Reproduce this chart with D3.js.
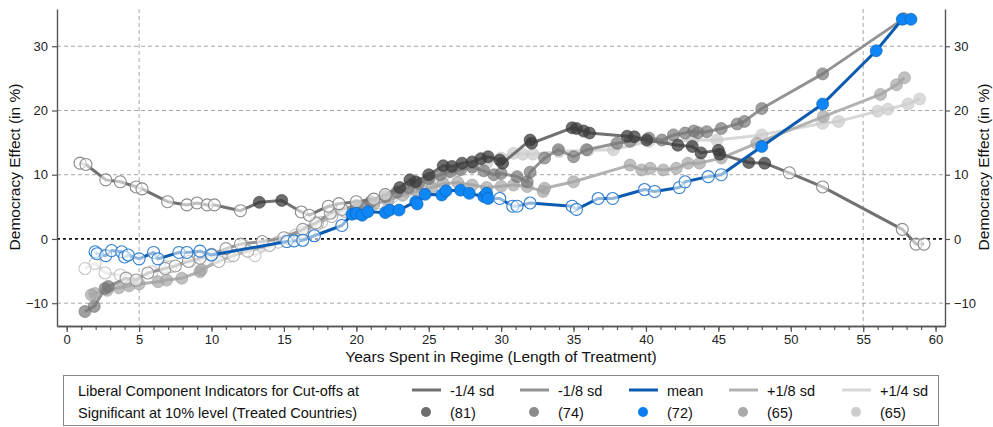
<!DOCTYPE html>
<html>
<head>
<meta charset="utf-8">
<script src="https://cdn.jsdelivr.net/npm/d3@7"></script>
<style>
  body { margin: 0; background: #fff; }
  svg { font-family: "Liberation Sans", Arial, Helvetica, sans-serif; }
</style>
</head>
<body>
<div id="plot"></div>
<script>
var width = 993;
var height = 427;

// [years in regime, effect in %, significant at 10% (1) or not (0)]
var minusQuarter = [
  [0.92,11.8,0],[1.33,11.6,0],[2.7,9.2,0],[3.7,8.9,0],[4.8,8.1,0],[5.2,7.8,0],[6.97,5.8,0],
  [8.3,5.3,0],[9.0,5.6,0],[9.7,5.3,0],[10.2,5.3,0],[12.0,4.4,0],[13.3,5.7,1],[14.85,6.0,1],
  [16.2,4.2,0],[16.75,3.7,0],[18.07,5.1,0],[18.8,5.5,0],[20.0,5.8,0],[21.2,6.2,0],[22.0,6.9,0],
  [23.0,8.0,1],[23.7,9.2,1],[24.1,8.9,1],[25.0,10.0,1],[26.0,11.4,1],[26.6,11.3,1],[27.3,11.8,1],
  [28.0,12.0,1],[28.6,12.5,1],[29.1,12.8,1],[29.9,12.3,1],[30.1,11.8,1],[32.0,15.4,1],[32.1,14.9,1],
  [34.9,17.3,1],[35.2,17.2,1],[35.7,16.8,1],[36.1,16.5,1],[38.7,16.0,1],[39.2,15.9,1],[40.05,15.4,1],
  [42.2,14.6,1],[43.2,14.4,1],[43.8,13.4,1],[45.0,13.8,1],[45.1,13.2,1],[47.1,11.9,1],[48.2,11.8,1],
  [49.9,10.3,0],[52.2,8.1,0],[57.7,1.5,0],[58.65,-0.8,0],[59.2,-0.8,0]
];
var minusEighth = [
  [1.26,-11.3,1],[1.9,-10.5,1],[2.65,-7.7,1],[2.87,-7.4,1],[4.1,-6.1,0],[4.8,-6.4,0],[5.6,-5.3,0],
  [6.8,-4.6,0],[7.5,-4.2,0],[8.4,-3.5,0],[9.2,-3.0,0],[10.0,-2.4,0],[11.0,-1.5,0],[12.0,-0.8,0],
  [13.5,-0.4,0],[15.0,0.2,0],[16.3,1.5,0],[17.2,2.5,0],[18.2,4.0,0],[19.0,4.6,0],[20.0,5.2,1],
  [21.0,5.8,1],[22.0,6.6,1],[22.8,7.3,1],[23.6,8.0,1],[24.3,8.6,1],[25.0,9.4,1],[25.8,10.0,1],
  [26.5,10.5,1],[27.2,10.8,1],[28.0,11.2,1],[28.8,10.6,1],[29.5,10.0,1],[30.0,10.2,1],[31.1,9.7,1],
  [31.8,8.9,1],[32.0,10.4,1],[33.0,12.6,1],[33.95,13.9,1],[35.0,12.8,1],[35.9,13.9,1],[38.0,14.9,1],
  [38.9,15.2,1],[40.2,15.7,1],[41.1,15.4,1],[41.9,16.2,1],[42.7,16.5,1],[43.3,16.8,1],[43.6,16.55,1],
  [44.2,16.7,1],[45.2,17.2,1],[46.3,17.9,1],[46.8,18.3,1],[48.0,20.3,1],[52.2,25.7,1],[57.8,34.3,1]
];
var meanSeries = [
  [1.96,-2.0,0],[2.1,-2.3,0],[2.7,-2.6,0],[3.1,-1.8,0],[3.8,-2.0,0],[4.0,-2.8,0],[4.25,-2.5,0],
  [5.0,-3.1,0],[6.0,-2.1,0],[6.3,-3.1,0],[7.75,-2.1,0],[8.3,-2.1,0],[9.2,-1.9,0],[10.0,-2.5,0],
  [15.2,-0.4,0],[15.7,-0.3,0],[16.3,-0.2,0],[17.1,0.5,0],[19.0,2.1,0],[19.7,3.85,1],[20.0,4.0,1],
  [20.4,3.7,1],[20.8,4.25,1],[22.0,4.1,1],[22.3,4.5,1],[22.95,4.5,1],[24.1,5.8,1],[24.2,5.45,1],
  [24.75,6.95,1],[25.9,6.85,1],[26.2,7.5,1],[27.2,7.6,1],[27.8,7.1,1],[28.8,6.6,1],[29.0,7.1,1],
  [29.1,6.3,1],[29.9,6.3,0],[30.8,5.1,0],[31.1,5.1,0],[32.0,5.6,0],[34.9,5.1,0],[35.2,4.6,0],
  [36.7,6.3,0],[37.7,6.3,0],[39.9,7.7,0],[40.6,7.4,0],[42.3,8.0,0],[42.7,8.9,0],[44.3,9.7,0],
  [45.2,10.0,0],[48.0,14.4,1],[52.2,21.0,1],[55.9,29.3,1],[57.7,34.2,1],[58.3,34.2,1]
];
var plusEighth = [
  [1.7,-8.7,1],[1.95,-8.5,1],[2.8,-8.0,1],[3.6,-7.6,1],[4.3,-7.3,1],[5.0,-7.0,1],[6.3,-6.65,1],
  [6.9,-6.4,1],[7.95,-6.1,1],[9.2,-5.1,1],[9.3,-4.8,1],[10.5,-3.5,0],[11.5,-2.6,0],[12.5,-1.9,0],
  [14.0,-1.0,0],[15.3,0.0,0],[16.3,1.0,0],[17.3,2.3,0],[18.3,3.5,0],[19.2,4.3,0],[20.2,4.8,1],
  [21.2,5.4,1],[22.2,6.0,1],[23.2,6.8,1],[24.2,7.4,1],[25.2,8.0,1],[26.0,8.6,1],[27.0,8.8,1],
  [28.0,8.4,1],[29.0,8.0,1],[30.0,8.2,1],[30.85,8.4,1],[31.8,8.15,1],[32.9,7.4,1],[33.0,7.9,1],
  [35.0,8.9,1],[38.9,11.5,1],[39.7,10.75,1],[40.3,11.0,1],[41.2,10.75,1],[42.1,11.0,1],[42.9,11.8,1],
  [43.7,11.8,1],[45.2,12.6,1],[47.65,14.9,1],[52.25,19.05,1],[56.2,22.5,1],[57.3,24.0,1],[57.85,25.1,1]
];
var plusQuarter = [
  [1.26,-4.6,0],[1.96,-3.8,0],[2.65,-5.3,0],[3.7,-5.6,0],[4.25,-6.4,0],[5.9,-5.1,0],[6.8,-4.3,0],
  [7.2,-4.3,0],[8.5,-3.5,0],[9.6,-3.2,0],[11.2,-2.7,0],[12.2,-1.0,0],[13.0,-2.6,0],[14.6,-0.5,0],
  [15.8,0.6,0],[16.8,1.4,0],[17.6,2.6,0],[18.4,4.3,0],[19.4,4.6,0],[20.4,5.0,0],[21.5,5.6,0],
  [22.5,6.6,0],[23.5,7.4,1],[24.5,8.4,1],[25.3,9.3,1],[26.2,10.2,1],[27.0,10.6,1],[28.0,11.2,1],
  [29.0,11.8,1],[30.0,12.6,1],[30.85,13.35,1],[31.5,13.2,1],[32.2,13.2,1],[34.0,13.6,1],[36.0,13.8,1],
  [37.75,13.9,1],[40.2,15.2,1],[43.2,15.4,1],[44.9,15.4,1],[48.0,16.2,1],[52.2,18.0,1],[53.3,18.3,1],
  [56.0,19.9,1],[56.7,20.2,1],[58.1,21.0,1],[58.9,21.8,1]
];

var seriesNames = ['-1/4 sd', '-1/8 sd', 'mean', '+1/8 sd', '+1/4 sd'];
var seriesCounts = ['(81)', '(74)', '(72)', '(65)', '(65)'];
var xTicks = [0, 5, 10, 15, 20, 25, 30, 35, 40, 45, 50, 55, 60];
var yTicks = [-10, 0, 10, 20, 30];

var styles = [
  { line: '#717171', fill: 'rgba(60,60,60,0.75)', edge: '#3a3a3a', hollow: '#8a8a8a', legend: '#6e6e6e' },
  { line: '#939393', fill: 'rgba(120,120,120,0.7)', edge: '#707070', hollow: '#999', legend: '#8b8b8b' },
  { line: '#0b5cb0', fill: '#0f86f5', edge: '#0b5cb0', hollow: '#2f7fd0', legend: '#0a7ff0' },
  { line: '#b2b2b2', fill: 'rgba(165,165,165,0.7)', edge: '#9c9c9c', hollow: '#b0b0b0', legend: '#a9a9a9' },
  { line: '#d7d7d7', fill: 'rgba(205,205,205,0.75)', edge: '#c4c4c4', hollow: '#c6c6c6', legend: '#cdcdcd' }
];

var allSeries = [minusQuarter, minusEighth, meanSeries, plusEighth, plusQuarter];

var canvas = d3.select('#plot')
  .append('svg')
  .attr('width', width)
  .attr('height', height);

var x_scale = d3.scaleLinear().domain([-0.67, 60.65]).range([57, 945]);
var y_scale = d3.scaleLinear().domain([-13.55, 35.8]).range([326, 9]);

// grid
canvas.selectAll('line.hgrid')
  .data(yTicks.filter(function(d) { return d !== 0; }))
  .enter().append('line')
  .attr('class', 'hgrid')
  .attr('x1', 57).attr('x2', 945)
  .attr('y1', function(d) { return y_scale(d); })
  .attr('y2', function(d) { return y_scale(d); })
  .attr('stroke', '#a8a8a8').attr('stroke-width', 1)
  .attr('stroke-dasharray', '4,3');

canvas.selectAll('line.vgrid')
  .data([5, 55])
  .enter().append('line')
  .attr('class', 'vgrid')
  .attr('x1', function(d) { return x_scale(d); })
  .attr('x2', function(d) { return x_scale(d); })
  .attr('y1', 9).attr('y2', 326)
  .attr('stroke', '#a8a8a8').attr('stroke-width', 1)
  .attr('stroke-dasharray', '4,3');

canvas.append('line')
  .attr('x1', 57).attr('x2', 945)
  .attr('y1', y_scale(0)).attr('y2', y_scale(0))
  .attr('stroke', '#111').attr('stroke-width', 1.8)
  .attr('stroke-dasharray', '3,3');

// axes
function styleAxis(g) {
  g.selectAll('path.domain').attr('stroke', '#555').attr('stroke-width', 1.4);
  g.selectAll('.tick line').attr('stroke', '#555').attr('stroke-width', 1.2);
  g.selectAll('.tick text').attr('fill', '#222').attr('font-size', 13)
    .attr('font-family', '"Liberation Sans", Arial, sans-serif');
}

var minor = d3.range(0, 61, 1);
canvas.append('g')
  .attr('transform', 'translate(0,326)')
  .call(d3.axisBottom(x_scale).tickValues(minor).tickSize(4).tickFormat('').tickSizeOuter(0))
  .call(styleAxis);

canvas.append('g')
  .attr('transform', 'translate(0,326)')
  .call(d3.axisBottom(x_scale).tickValues(xTicks).tickSize(6).tickPadding(3).tickSizeOuter(0))
  .call(styleAxis);

canvas.append('g')
  .attr('transform', 'translate(57,0)')
  .call(d3.axisLeft(y_scale).tickValues(yTicks).tickSize(5).tickPadding(4).tickSizeOuter(0))
  .call(styleAxis);

canvas.append('g')
  .attr('transform', 'translate(945,0)')
  .call(d3.axisRight(y_scale).tickValues(yTicks).tickSize(5).tickPadding(4).tickSizeOuter(0))
  .call(styleAxis);

// axis titles
canvas.append('text')
  .attr('x', 501).attr('y', 362)
  .attr('text-anchor', 'middle').attr('font-size', 15.5).attr('fill', '#111')
  .text('Years Spent in Regime (Length of Treatment)');

canvas.append('text')
  .attr('transform', 'translate(20,167) rotate(-90)')
  .attr('text-anchor', 'middle').attr('font-size', 15.5).attr('fill', '#111')
  .text('Democracy Effect (in %)');

canvas.append('text')
  .attr('transform', 'translate(989,167) rotate(-90)')
  .attr('text-anchor', 'middle').attr('font-size', 15.5).attr('fill', '#111')
  .text('Democracy Effect (in %)');

// series
var line_gen = d3.line()
  .x(function(d) { return x_scale(d[0]); })
  .y(function(d) { return y_scale(d[1]); });

var drawOrder = [4, 3, 1, 0, 2];
drawOrder.forEach(function(s) {
  var st = styles[s];
  var g = canvas.append('g');
  g.append('path')
    .datum(allSeries[s])
    .attr('d', line_gen)
    .attr('fill', 'none')
    .attr('stroke', st.line)
    .attr('stroke-width', 3)
    .attr('stroke-linejoin', 'round');

  g.selectAll('circle')
    .data(allSeries[s])
    .enter().append('circle')
    .attr('cx', function(d) { return x_scale(d[0]); })
    .attr('cy', function(d) { return y_scale(d[1]); })
    .attr('r', 6)
    .attr('fill', function(d) { return d[2] ? st.fill : 'rgba(255,255,255,0.55)'; })
    .attr('stroke', function(d) { return d[2] ? st.edge : st.hollow; })
    .attr('stroke-width', function(d) { return d[2] ? 0.6 : 1.1; });
});

// legend
canvas.append('rect')
  .attr('x', 63.5).attr('y', 375.5)
  .attr('width', 875).attr('height', 50)
  .attr('fill', '#fff').attr('stroke', '#888').attr('stroke-width', 1);

canvas.append('text')
  .attr('x', 78).attr('y', 396).attr('font-size', 14.5).attr('fill', '#111')
  .text('Liberal Component Indicators for Cut-offs at');
canvas.append('text')
  .attr('x', 78).attr('y', 418).attr('font-size', 14.5).attr('fill', '#111')
  .text('Significant at 10% level (Treated Countries)');

var legendX = [412, 520, 629, 729, 842];
var leg = canvas.selectAll('g.leg')
  .data(seriesNames)
  .enter().append('g')
  .attr('class', 'leg')
  .attr('transform', function(d, i) { return 'translate(' + legendX[i] + ',0)'; });

leg.append('line')
  .attr('x1', 0).attr('x2', 29)
  .attr('y1', 390).attr('y2', 390)
  .attr('stroke', function(d, i) { return styles[i].line; })
  .attr('stroke-width', 3);
leg.append('text')
  .attr('x', 38).attr('y', 396).attr('font-size', 14.5).attr('fill', '#111')
  .text(function(d) { return d; });
leg.append('circle')
  .attr('cx', 14).attr('cy', 412).attr('r', 5)
  .attr('fill', function(d, i) { return styles[i].legend; });
leg.append('text')
  .attr('x', 38).attr('y', 418).attr('font-size', 14.5).attr('fill', '#111')
  .text(function(d, i) { return seriesCounts[i]; });
</script>
</body>
</html>
